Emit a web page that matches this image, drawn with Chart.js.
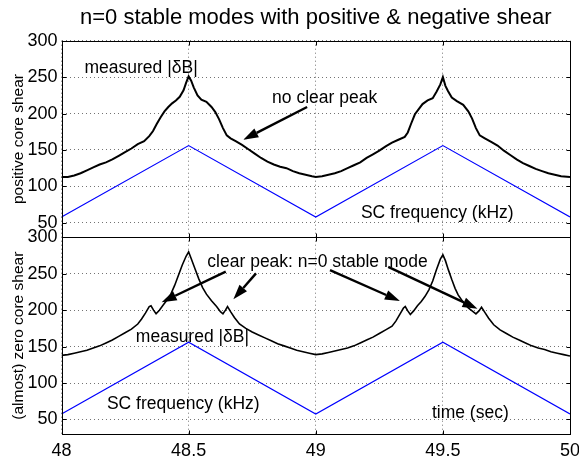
<!DOCTYPE html>
<html>
<head>
<meta charset="utf-8">
<script src="https://cdn.jsdelivr.net/npm/chart.js@4/dist/chart.umd.min.js"></script>
<style>
  html, body { margin: 0; padding: 0; background: #fff; }
  #wrap { width: 579px; height: 462px; }
</style>
</head>
<body>
<div id="wrap"><canvas id="shearChart" width="579" height="462"></canvas></div>
<script>
const TITLE = 'n=0 stable modes with positive & negative shear';
const xTicks = [48, 48.5, 49, 49.5, 50];
const yTicks = [50, 100, 150, 200, 250, 300];

// SC frequency sweep (kHz), triangle in both panels
const scTime = [48, 48.5, 49, 49.5, 50];
const scPos = [58, 156, 58, 156, 58];
const scZero = [57.5, 156, 57.5, 156, 57.5];

// measured |dB|, positive core shear (top panel)
const tPos = [
  48.000, 48.025, 48.050, 48.075, 48.100, 48.125, 48.150, 48.175, 48.200, 48.225,
  48.250, 48.275, 48.300, 48.325, 48.345, 48.360, 48.375, 48.390, 48.405, 48.420,
  48.435, 48.450, 48.465, 48.480, 48.490, 48.500, 48.510, 48.520, 48.535, 48.550,
  48.570, 48.590, 48.605, 48.620, 48.635, 48.650, 48.665, 48.685, 48.710, 48.735,
  48.760, 48.785, 48.810, 48.835, 48.860, 48.885, 48.910, 48.935, 48.960, 48.985,
  49.000, 49.025, 49.050, 49.075, 49.100, 49.125, 49.150, 49.175, 49.200, 49.225,
  49.250, 49.275, 49.300, 49.325, 49.350, 49.362, 49.375, 49.390, 49.405, 49.420,
  49.440, 49.460, 49.475, 49.490, 49.500, 49.510, 49.520, 49.535, 49.555, 49.580,
  49.600, 49.615, 49.630, 49.645, 49.665, 49.690, 49.715, 49.740, 49.765, 49.790,
  49.815, 49.840, 49.865, 49.890, 49.915, 49.940, 49.965, 50.000
];
const dbPos = [
  113, 113, 115, 118, 122, 126, 130, 133, 137, 142,
  147, 152, 158, 162, 169, 176, 186, 195, 203, 209,
  214, 218, 223, 232, 242, 251, 245, 236, 225, 219,
  216, 209, 202, 192, 180, 170, 166, 162, 157, 151,
  145, 139, 134, 130, 127, 125, 121, 118, 116, 114,
  113, 114, 116, 118, 121, 125, 129, 133, 139, 144,
  149, 155, 160, 164, 168, 174, 186, 199, 206, 213,
  218, 221, 230, 240, 250, 238, 231, 222, 217, 212,
  203, 193, 180, 170, 166, 161, 156, 149, 143, 137,
  132, 128, 124, 121, 118, 116, 114, 113
];

// measured |dB|, (almost) zero core shear (bottom panel)
const tZero = [
  48.000, 48.025, 48.050, 48.075, 48.100, 48.125, 48.150, 48.175, 48.200, 48.225,
  48.250, 48.275, 48.300, 48.315, 48.330, 48.345, 48.352, 48.362, 48.372, 48.385,
  48.400, 48.415, 48.430, 48.445, 48.460, 48.475, 48.490, 48.500, 48.510, 48.525,
  48.540, 48.555, 48.570, 48.590, 48.610, 48.625, 48.635, 48.645, 48.653, 48.665,
  48.680, 48.700, 48.725, 48.750, 48.775, 48.800, 48.825, 48.850, 48.875, 48.900,
  48.925, 48.950, 48.975, 49.000,
  49.025, 49.050, 49.075, 49.100, 49.125, 49.150, 49.175, 49.200, 49.225, 49.250,
  49.275, 49.300, 49.315, 49.330, 49.345, 49.352, 49.362, 49.372, 49.385, 49.400,
  49.415, 49.430, 49.445, 49.460, 49.475, 49.490, 49.500, 49.510, 49.522, 49.535,
  49.548, 49.560, 49.580, 49.600, 49.615, 49.630, 49.642, 49.652, 49.665, 49.680,
  49.700, 49.725, 49.750, 49.775, 49.800, 49.825, 49.850, 49.875, 49.900, 49.925,
  49.950, 49.975, 50.000
];
const dbZero = [
  138, 139, 141, 143, 145, 148, 151, 155, 159, 164,
  169, 174, 181, 188, 196, 205, 206, 200, 195, 200,
  207, 214, 222, 234, 248, 262, 274, 280, 271, 257,
  243, 231, 222, 213, 205, 198, 195, 200, 205, 198,
  190, 181, 175, 170, 166, 162, 158, 154, 151, 148,
  145, 143, 141, 139,
  140, 142, 144, 146, 148, 151, 155, 159, 163, 168,
  173, 178, 185, 194, 203, 205, 199, 194, 199, 206,
  212, 219, 228, 240, 256, 270, 276, 268, 255, 242,
  230, 221, 211, 203, 199, 195, 199, 204, 197, 189,
  180, 173, 168, 163, 159, 155, 151, 148, 146, 143,
  141, 139, 137
];

// text labels and arrows, in data coordinates of their panel
const notes = [
  { axis: 'yTop', x: 48.313, y: 262, text: 'measured |\u03b4B|' },
  { axis: 'yTop', x: 49.035, y: 221, text: 'no clear peak' },
  { axis: 'yTop', x: 49.478, y: 63, text: 'SC frequency (kHz)' },
  { axis: 'yBot', x: 49.007, y: 265.5, text: 'clear peak: n=0 stable mode' },
  { axis: 'yBot', x: 48.515, y: 162.5, text: 'measured |\u03b4B|' },
  { axis: 'yBot', x: 48.479, y: 71.5, text: 'SC frequency (kHz)' },
  { axis: 'yBot', x: 49.608, y: 59, text: 'time (sec)' }
];
const arrows = [
  { axis: 'yTop', x0: 48.966, y0: 209, x1: 48.715, y1: 164 },
  { axis: 'yBot', x0: 48.646, y0: 253, x1: 48.394, y1: 211 },
  { axis: 'yBot', x0: 48.765, y0: 250.5, x1: 48.676, y1: 215 },
  { axis: 'yBot', x0: 49.056, y0: 255, x1: 49.331, y1: 212.5 },
  { axis: 'yBot', x0: 49.285, y0: 259.5, x1: 49.636, y1: 202 }
];

const FONT = "'Liberation Sans', Arial, Helvetica, sans-serif";

function pairs(t, v) {
  return t.map((x, i) => ({ x: x, y: v[i] }));
}

function drawArrow(ctx, x0, y0, x1, y1) {
  const a = Math.atan2(y1 - y0, x1 - x0);
  const len = 15, half = 5;
  const bx = x1 - len * Math.cos(a), by = y1 - len * Math.sin(a);
  ctx.beginPath();
  ctx.moveTo(x0, y0);
  ctx.lineTo(bx, by);
  ctx.stroke();
  ctx.beginPath();
  ctx.moveTo(x1, y1);
  ctx.lineTo(bx + half * Math.sin(a), by - half * Math.cos(a));
  ctx.lineTo(bx - half * Math.sin(a), by + half * Math.cos(a));
  ctx.closePath();
  ctx.fill();
}

// panel frames, inward ticks (matlab style) and the annotations
const framePlugin = {
  id: 'frames',
  afterDatasetsDraw(chart) {
    const ctx = chart.ctx;
    const xs = chart.scales.x;
    ctx.save();
    ctx.strokeStyle = '#000';
    ctx.lineWidth = 1;
    ['yTop', 'yBot'].forEach(id => {
      const ys = chart.scales[id];
      const l = Math.round(xs.left) + 0.5, r = Math.round(xs.right) + 0.5;
      const t = Math.round(ys.top) + 0.5, b = Math.round(ys.bottom) + 0.5;
      ctx.strokeRect(l, t, r - l, b - t);
      ctx.beginPath();
      yTicks.forEach(v => {
        const y = Math.round(ys.getPixelForValue(v)) + 0.5;
        ctx.moveTo(l, y); ctx.lineTo(l + 4, y);
        ctx.moveTo(r, y); ctx.lineTo(r - 4, y);
      });
      xTicks.forEach(v => {
        const x = Math.round(xs.getPixelForValue(v)) + 0.5;
        ctx.moveTo(x, t); ctx.lineTo(x, t + 4);
        ctx.moveTo(x, b); ctx.lineTo(x, b - 4);
      });
      ctx.stroke();
    });

    ctx.fillStyle = '#000';
    ctx.font = '17.5px ' + FONT;
    ctx.textAlign = 'center';
    ctx.textBaseline = 'middle';
    notes.forEach(n => {
      const ys = chart.scales[n.axis];
      ctx.fillText(n.text, xs.getPixelForValue(n.x), ys.getPixelForValue(n.y));
    });

    ctx.lineWidth = 2.4;
    arrows.forEach(a => {
      const ys = chart.scales[a.axis];
      drawArrow(ctx, xs.getPixelForValue(a.x0), ys.getPixelForValue(a.y0),
        xs.getPixelForValue(a.x1), ys.getPixelForValue(a.y1));
    });
    ctx.restore();
  }
};

function yAxis(title) {
  return {
    type: 'linear',
    position: 'left',
    stack: 'panels',
    stackWeight: 1,
    min: 30,
    max: 300,
    afterBuildTicks: axis => { axis.ticks = yTicks.map(v => ({ value: v })); },
    afterFit: axis => { axis.width = 61.5; },
    ticks: {
      autoSkip: false,
      padding: 4,
      color: '#000',
      font: { family: FONT, size: 18 },
      callback: v => String(v)
    },
    grid: { color: 'rgba(0,0,0,0.55)', drawTicks: false },
    border: { display: false, dash: [1, 3] },
    title: {
      display: true,
      text: title,
      color: '#000',
      font: { family: FONT, size: 15.5 },
      padding: { top: 9, bottom: 0 }
    }
  };
}

document.addEventListener('DOMContentLoaded', function () {
  var ctx = document.getElementById('shearChart').getContext('2d');
  new Chart(ctx, {
    type: 'line',
    data: {
      datasets: [{
        label: 'measured |dB| (positive shear)',
        data: pairs(tPos, dbPos),
        yAxisID: 'yTop',
        borderColor: '#000',
        borderWidth: 2,
        pointRadius: 0,
        tension: 0
      }, {
        label: 'SC frequency (positive shear)',
        data: pairs(scTime, scPos),
        yAxisID: 'yTop',
        borderColor: '#0000ff',
        borderWidth: 1.2,
        pointRadius: 0,
        tension: 0
      }, {
        label: 'measured |dB| (zero shear)',
        data: pairs(tZero, dbZero),
        yAxisID: 'yBot',
        borderColor: '#000',
        borderWidth: 1.6,
        pointRadius: 0,
        tension: 0
      }, {
        label: 'SC frequency (zero shear)',
        data: pairs(scTime, scZero),
        yAxisID: 'yBot',
        borderColor: '#0000ff',
        borderWidth: 1.2,
        pointRadius: 0,
        tension: 0
      }]
    },
    options: {
      responsive: false,
      devicePixelRatio: 1,
      animation: false,
      events: [],
      layout: { padding: { left: 0, right: 9, top: 0, bottom: 0 } },
      scales: {
        x: {
          type: 'linear',
          position: 'bottom',
          min: 48,
          max: 50,
          afterBuildTicks: axis => { axis.ticks = xTicks.map(v => ({ value: v })); },
          afterFit: axis => {
            axis.height = 28;
            // let the last label hang into the margin, as in the original
            axis.paddingLeft = 0;
            axis.paddingRight = 0;
          },
          ticks: {
            autoSkip: false,
            maxRotation: 0,
            padding: 6,
            color: '#000',
            font: { family: FONT, size: 18 },
            callback: v => String(v)
          },
          grid: { color: 'rgba(0,0,0,0.55)', drawTicks: false },
          border: { display: false, dash: [1, 3] }
        },
        yBot: yAxis('(almost) zero core shear'),
        yTop: yAxis('positive core shear')
      },
      plugins: {
        legend: { display: false },
        tooltip: { enabled: false },
        title: {
          display: true,
          text: TITLE,
          fullSize: false,
          color: '#000',
          font: { family: FONT, size: 22, weight: 'normal' },
          padding: { top: 5, bottom: 9.3 }
        }
      }
    },
    plugins: [framePlugin]
  });
});
</script>
</body>
</html>
